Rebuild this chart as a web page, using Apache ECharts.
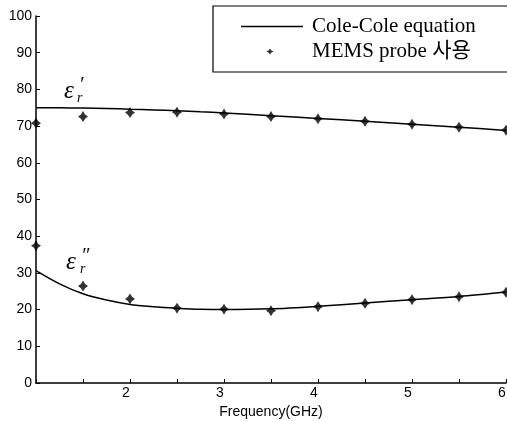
<!DOCTYPE html>
<html>
<head>
<meta charset="utf-8">
<script src="https://cdn.jsdelivr.net/npm/echarts@6/dist/echarts.min.js"></script>
<style>
  html, body { margin: 0; padding: 0; background: #fff; }
  #chart { width: 507px; height: 421px; }
</style>
</head>
<body>
<div id="chart"></div>
<script>
// 측정 주파수 (GHz)
const measFreq = [1, 1.5, 2, 2.5, 3, 3.5, 4, 4.5, 5, 5.5, 6];
// MEMS probe 측정값
const measReal = [70.8, 72.6, 73.7, 73.8, 73.3, 72.6, 72.0, 71.3, 70.5, 69.7, 68.9];
const measImag = [37.4, 26.4, 22.9, 20.4, 20.1, 19.7, 20.8, 21.7, 22.7, 23.5, 24.7];
// Cole-Cole 모델 곡선
const modelFreq = [1, 1.25, 1.5, 1.75, 2, 2.25, 2.5, 2.75, 3, 3.5, 4, 4.5, 5, 5.5, 6];
const modelReal = [75.0, 75.0, 74.9, 74.8, 74.6, 74.4, 74.2, 73.9, 73.6, 72.8, 72.1, 71.3, 70.5, 69.7, 68.8];
const modelImag = [30.6, 27.0, 24.3, 22.6, 21.4, 20.8, 20.4, 20.1, 20.0, 20.2, 20.9, 21.8, 22.7, 23.6, 24.8];

const pairs = (xs, ys) => xs.map((x, i) => [x, ys[i]]);

const starPath = 'path://M0,-6 L2.3,-2.3 L5.5,0 L2.3,2.3 L0,6 L-2.3,2.3 L-5.5,0 L-2.3,-2.3 Z';
const serif = '"Liberation Serif", "Noto Sans CJK KR", serif';
const sans = '"Liberation Sans", Arial, sans-serif';

const chartDom = document.getElementById('chart');
const myChart = echarts.init(chartDom);

const lineStyle = { color: '#000', width: 1.5 };
const option = {
  backgroundColor: '#fff',
  animation: false,
  grid: { left: 36, right: 1, top: 16, bottom: 38, outerBoundsMode: 'none' },
  legend: {
    orient: 'vertical',
    left: 213,
    top: 6,
    padding: [10, 60, 10, 28],
    itemGap: 4,
    itemWidth: 62,
    itemHeight: 14,
    borderColor: '#000',
    borderWidth: 1.2,
    backgroundColor: '#fff',
    textStyle: { fontFamily: serif, fontSize: 21, color: '#000', padding: [0, 0, 0, 4] },
    data: [
      { name: 'Cole-Cole equation', icon: 'path://M0,6.3 L62,6.3 L62,7.8 L0,7.8 Z M0,0 L0,0.01 Z M0,14 L0,14.01 Z' },
      { name: 'MEMS probe 사용', icon: 'path://M29,4 L30.2,5.8 L32.5,7 L30.2,8.2 L29,10 L27.8,8.2 L25.5,7 L27.8,5.8 Z M62,0 L62,0.01 Z M0,14 L0,14.01 Z' }
    ]
  },
  xAxis: {
    type: 'value',
    min: 1,
    max: 6,
    interval: 0.5,
    name: 'Frequency(GHz)',
    nameLocation: 'middle',
    nameGap: 22,
    nameTextStyle: { fontFamily: sans, fontSize: 14, color: '#000' },
    axisLine: { lineStyle: { color: '#000', width: 1.5 } },
    axisTick: { inside: true, length: 4, lineStyle: { color: '#000' } },
    axisLabel: {
      fontFamily: sans, fontSize: 14, color: '#000', margin: 3, padding: [0, 8, 0, 0],
      formatter: v => (v % 1 === 0 && v !== 1) ? String(v) : ''
    },
    splitLine: { show: false }
  },
  yAxis: {
    type: 'value',
    min: 0,
    max: 100,
    interval: 10,
    axisLine: { show: true, lineStyle: { color: '#000', width: 1.5 } },
    axisTick: { show: true, inside: true, length: 4, lineStyle: { color: '#000' } },
    axisLabel: { fontFamily: sans, fontSize: 14, color: '#000', margin: 4 },
    splitLine: { show: false }
  },
  // 유전율 기호
  graphic: [
    { type: 'text', left: 64, top: 79, style: { text: 'ε', font: 'italic 25px "Liberation Serif"', fill: '#000' } },
    { type: 'text', left: 79, top: 76, style: { text: '′', font: 'italic 20px "Liberation Serif"', fill: '#000' } },
    { type: 'text', left: 77, top: 91, style: { text: 'r', font: 'italic 14px "Liberation Serif"', fill: '#000' } },
    { type: 'text', left: 66, top: 250, style: { text: 'ε', font: 'italic 25px "Liberation Serif"', fill: '#000' } },
    { type: 'text', left: 81, top: 247, style: { text: '″', font: 'italic 20px "Liberation Serif"', fill: '#000' } },
    { type: 'text', left: 80, top: 262, style: { text: 'r', font: 'italic 14px "Liberation Serif"', fill: '#000' } }
  ],
  series: [
    {
      name: 'Cole-Cole equation', type: 'line', data: pairs(modelFreq, modelReal),
      smooth: 0.3, showSymbol: false, lineStyle, itemStyle: { color: '#000' }, z: 2
    },
    {
      name: 'Cole-Cole equation', type: 'line', data: pairs(modelFreq, modelImag),
      smooth: 0.3, showSymbol: false, lineStyle, itemStyle: { color: '#000' }, z: 2
    },
    {
      name: 'MEMS probe 사용', type: 'scatter', data: pairs(measFreq, measReal),
      symbol: starPath, symbolSize: [10, 11], itemStyle: { color: '#000' }, z: 3
    },
    {
      name: 'MEMS probe 사용', type: 'scatter', data: pairs(measFreq, measImag),
      symbol: starPath, symbolSize: [10, 11], itemStyle: { color: '#000' }, z: 3
    }
  ]
};

option && myChart.setOption(option);
</script>
</body>
</html>
